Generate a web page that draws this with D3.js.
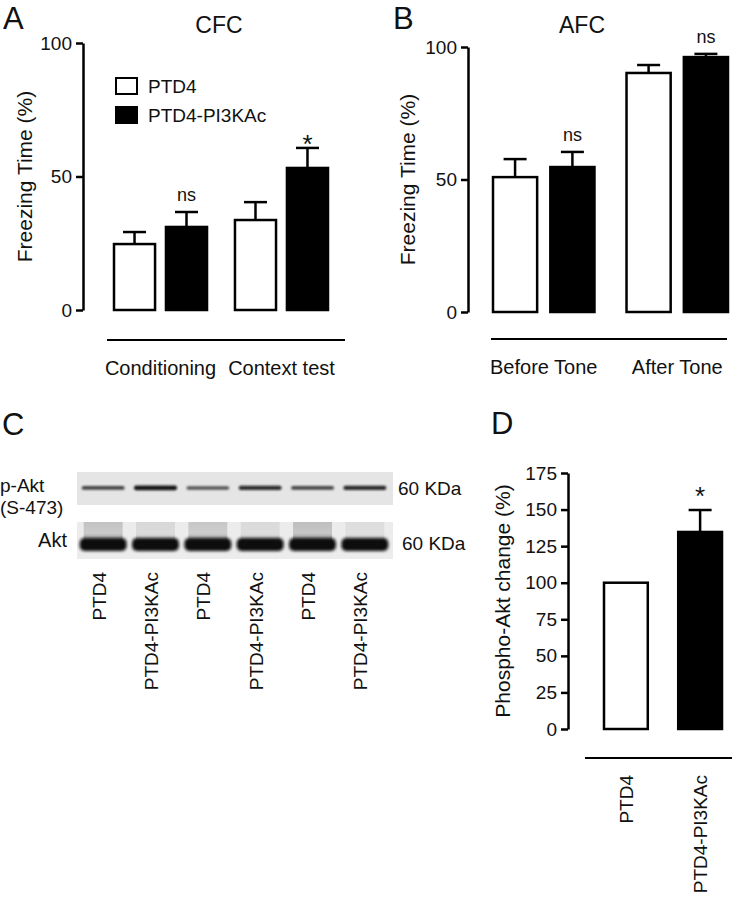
<!DOCTYPE html>
<html>
<head>
<meta charset="utf-8">
<script src="https://cdn.jsdelivr.net/npm/d3@7"></script>
<style>
  html, body { margin: 0; padding: 0; background: #fff; }
  svg text { font-family: "Liberation Sans", Arial, Helvetica, sans-serif; fill: #111; }
</style>
</head>
<body>
<svg id="chart" width="732" height="899"></svg>
<script>
// ---------------- DATA ----------------
const seriesNames = ["PTD4", "PTD4-PI3KAc"];

// Panel A - CFC
const cfcGroups = ["Conditioning", "Context test"];
const cfcPTD4 = [24.7, 33.7];
const cfcPTD4err = [4.5, 6.7];
const cfcPI3K = [31.1, 53.2];
const cfcPI3Kerr = [5.6, 7.5];
const cfcMarks = ["ns", "*"];
const cfcTicks = [0, 50, 100];

// Panel B - AFC
const afcGroups = ["Before Tone", "After Tone"];
const afcPTD4 = [50.9, 90.2];
const afcPTD4err = [6.8, 3.0];
const afcPI3K = [54.7, 96.2];
const afcPI3Kerr = [5.7, 1.2];
const afcMarks = ["ns", "ns"];
const afcTicks = [0, 50, 100];

// Panel C - western blot
const laneLabels = ["PTD4", "PTD4-PI3KAc", "PTD4", "PTD4-PI3KAc", "PTD4", "PTD4-PI3KAc"];
const pAktBand = [0.62, 0.95, 0.5, 0.78, 0.6, 0.8];
const aktBand = [1, 1, 1, 1, 1, 1];
const aktSmear = [0.5, 0.25, 0.45, 0.22, 0.55, 0.18];
const blotRows = ["p-Akt", "(S-473)", "Akt"];
const blotKDa = ["60 KDa", "60 KDa"];

// Panel D - phospho-Akt change
const dCats = ["PTD4", "PTD4-PI3KAc"];
const dValues = [100, 134.7];
const dErr = [0, 15];
const dMarks = ["", "*"];
const dTicks = [0, 25, 50, 75, 100, 125, 150, 175];

// ---------------- DRAW ----------------
const svg = d3.select("#chart");
const fills = ["#ffffff", "#000000"];
const SW = 2.5;

function panelLetter(t, x, y) {
  svg.append("text").attr("x", x).attr("y", y).attr("font-size", 31).text(t);
}

function yAxis(y, x, ticks, label, labelX) {
  const g = svg.append("g").attr("transform", `translate(${x},0)`)
    .call(d3.axisLeft(y).tickValues(ticks).tickSize(7).tickPadding(4).tickSizeOuter(0));
  g.select(".domain").attr("stroke", "#000").attr("stroke-width", SW);
  g.selectAll(".tick line").attr("stroke", "#000").attr("stroke-width", SW);
  g.selectAll(".tick text").attr("font-size", 19).attr("fill", "#111")
    .attr("font-family", "Liberation Sans, Arial, sans-serif");
  const r = y.range();
  svg.append("text")
    .attr("transform", `translate(${labelX},${(r[0] + r[1]) / 2}) rotate(-90)`)
    .attr("text-anchor", "middle").attr("dy", "0.35em")
    .attr("font-size", 21).text(label);
}

function groupedBars(opts) {
  const { groups, vals, errs, marks, y, x0, baseline, baseX, catY, title, titleX, markOff, starOff } = opts;
  const xi = d3.scaleBand().domain(seriesNames).range([0, x0.bandwidth()]).paddingInner(opts.innerPad);
  const data = [];
  groups.forEach((g, gi) => seriesNames.forEach((s, si) => {
    data.push({ g, s, si, v: vals[si][gi], e: errs[si][gi], m: si === 1 ? marks[gi] : "" });
  }));
  const bx = d => x0(d.g) + xi(d.s);
  const bw = xi.bandwidth();
  const eg = svg.append("g");
  data.forEach(d => {
    if (d.e > 0) {
      const cx = bx(d) + bw / 2;
      eg.append("line").attr("x1", cx).attr("x2", cx).attr("y1", y(d.v)).attr("y2", y(d.v + d.e))
        .attr("stroke", "#000").attr("stroke-width", SW);
      eg.append("line").attr("x1", cx - 11.5).attr("x2", cx + 11.5).attr("y1", y(d.v + d.e)).attr("y2", y(d.v + d.e))
        .attr("stroke", "#000").attr("stroke-width", SW);
    }
  });
  svg.append("g").selectAll("rect").data(data).join("rect")
    .attr("x", bx).attr("width", bw)
    .attr("y", d => y(d.v)).attr("height", d => y(0) - y(d.v))
    .attr("fill", d => fills[d.si]).attr("stroke", "#000").attr("stroke-width", SW);
  data.forEach(d => {
    if (!d.m) return;
    const top = y(d.v + d.e);
    if (d.m === "*") {
      svg.append("text").attr("x", bx(d) + bw / 2).attr("y", top + starOff)
        .attr("text-anchor", "middle").attr("font-size", 26).text("*");
    } else {
      svg.append("text").attr("x", bx(d) + bw / 2).attr("y", top + markOff)
        .attr("text-anchor", "middle").attr("font-size", 18).text(d.m);
    }
  });
  svg.append("line").attr("x1", baseX[0]).attr("x2", baseX[1]).attr("y1", baseline).attr("y2", baseline)
    .attr("stroke", "#000").attr("stroke-width", 2);
  groups.forEach(g => {
    svg.append("text").attr("x", x0(g) + x0.bandwidth() / 2).attr("y", catY)
      .attr("text-anchor", "middle").attr("font-size", 20).text(g);
  });
  svg.append("text").attr("x", titleX).attr("y", 33).attr("text-anchor", "middle")
    .attr("font-size", 23).text(title);
}

// ---- Panel A ----
panelLetter("A", 3, 29);
const yA = d3.scaleLinear().domain([0, 100]).range([310, 43]);
const xA = d3.scaleBand().domain(cfcGroups).range([114, 328]).paddingInner(0.231).paddingOuter(0);
yAxis(yA, 83, cfcTicks, "Freezing Time (%)", 25);
groupedBars({ groups: cfcGroups, vals: [cfcPTD4, cfcPI3K], errs: [cfcPTD4err, cfcPI3Kerr], marks: cfcMarks,
  y: yA, x0: xA, innerPad: 0.21, baseline: 340, baseX: [107, 345], catY: 375,
  title: "CFC", titleX: 219, markOff: -11, starOff: 5 });
seriesNames.forEach((s, i) => {
  const ly = 86 + i * 29;
  svg.append("rect").attr("x", 116).attr("y", ly - 8).attr("width", 21).attr("height", 16)
    .attr("fill", fills[i]).attr("stroke", "#000").attr("stroke-width", 2);
  svg.append("text").attr("x", 148).attr("y", ly).attr("dy", "0.35em").attr("font-size", 19).text(s);
});

// ---- Panel B ----
panelLetter("B", 393, 29);
const yB = d3.scaleLinear().domain([0, 100]).range([312, 47]);
const xB = d3.scaleBand().domain(afcGroups).range([493, 728]).paddingInner(0.24).paddingOuter(0);
yAxis(yB, 468, afcTicks, "Freezing Time (%)", 408);
groupedBars({ groups: afcGroups, vals: [afcPTD4, afcPI3K], errs: [afcPTD4err, afcPI3Kerr], marks: afcMarks,
  y: yB, x0: xB, innerPad: 0.23, baseline: 339, baseX: [491, 727], catY: 374,
  title: "AFC", titleX: 582, markOff: -11, starOff: 5 });

// ---- Panel C (blot) ----
panelLetter("C", 2, 435);
const defs = svg.append("defs");
defs.append("filter").attr("id", "blur1").attr("x", "-20%").attr("y", "-100%").attr("width", "140%").attr("height", "300%")
  .append("feGaussianBlur").attr("stdDeviation", 1.0);
defs.append("filter").attr("id", "blur2").attr("x", "-20%").attr("y", "-50%").attr("width", "140%").attr("height", "200%")
  .append("feGaussianBlur").attr("stdDeviation", 1.6);
const sm = defs.append("linearGradient").attr("id", "smear").attr("x1", 0).attr("x2", 0).attr("y1", 0).attr("y2", 1);
sm.append("stop").attr("offset", "0%").attr("stop-color", "#555").attr("stop-opacity", 0.55);
sm.append("stop").attr("offset", "60%").attr("stop-color", "#555").attr("stop-opacity", 0.45);
sm.append("stop").attr("offset", "100%").attr("stop-color", "#333").attr("stop-opacity", 0.8);

const lane = d3.scaleBand().domain(d3.range(laneLabels.length)).range([77, 391]).paddingInner(0.18).paddingOuter(0.09);
svg.append("rect").attr("x", 77).attr("y", 472).attr("width", 316).attr("height", 33).attr("fill", "#e5e5e5");
svg.append("g").selectAll("rect").data(pAktBand).join("rect")
  .attr("x", (d, i) => lane(i)).attr("width", lane.bandwidth())
  .attr("y", (d) => 487 - d * 1.6).attr("height", d => 2 + d * 3).attr("rx", 2)
  .attr("fill", "#111").attr("opacity", d => 0.35 + 0.65 * d).attr("filter", "url(#blur1)");
svg.append("rect").attr("x", 77).attr("y", 522).attr("width", 316).attr("height", 37).attr("fill", "#ececec");
svg.append("g").selectAll("rect").data(aktSmear).join("rect")
  .attr("x", (d, i) => lane(i) + 2).attr("width", lane.bandwidth() - 4)
  .attr("y", 522).attr("height", 18)
  .attr("fill", "url(#smear)").attr("opacity", d => d);
svg.append("g").selectAll("rect").data(aktBand).join("rect")
  .attr("x", (d, i) => lane(i) - 2).attr("width", lane.bandwidth() + 4)
  .attr("y", 538).attr("height", 13).attr("rx", 5)
  .attr("fill", "#0d0d0d").attr("opacity", d => d).attr("filter", "url(#blur2)");
svg.append("text").attr("x", 0).attr("y", 492).attr("font-size", 19).text(blotRows[0]);
svg.append("text").attr("x", 0).attr("y", 514).attr("font-size", 19).text(blotRows[1]);
svg.append("text").attr("x", 67).attr("y", 547).attr("text-anchor", "end").attr("font-size", 20).text(blotRows[2]);
svg.append("text").attr("x", 398).attr("y", 495).attr("font-size", 19).text(blotKDa[0]);
svg.append("text").attr("x", 402).attr("y", 550).attr("font-size", 19).text(blotKDa[1]);
laneLabels.forEach((t, i) => {
  svg.append("text")
    .attr("transform", `translate(${lane(i) + lane.bandwidth() / 2 - 4},572) rotate(-90)`)
    .attr("text-anchor", "end").attr("dy", "0.35em").attr("font-size", 19).text(t);
});

// ---- Panel D ----
panelLetter("D", 491, 434);
const yD = d3.scaleLinear().domain([0, 175]).range([729, 473]);
const xD = d3.scaleBand().domain(dCats).range([604, 722]).paddingInner(0.41).paddingOuter(0);
yAxis(yD, 568, dTicks, "Phospho-Akt change (%)", 503);
const dData = dCats.map((c, i) => ({ c, i, v: dValues[i], e: dErr[i], m: dMarks[i] }));
dData.forEach(d => {
  if (d.e > 0) {
    const cx = xD(d.c) + xD.bandwidth() / 2;
    svg.append("line").attr("x1", cx).attr("x2", cx).attr("y1", yD(d.v)).attr("y2", yD(d.v + d.e))
      .attr("stroke", "#000").attr("stroke-width", SW);
    svg.append("line").attr("x1", cx - 11.5).attr("x2", cx + 11.5).attr("y1", yD(d.v + d.e)).attr("y2", yD(d.v + d.e))
      .attr("stroke", "#000").attr("stroke-width", SW);
  }
});
svg.append("g").selectAll("rect").data(dData).join("rect")
  .attr("x", d => xD(d.c)).attr("width", xD.bandwidth())
  .attr("y", d => yD(d.v)).attr("height", d => yD(0) - yD(d.v))
  .attr("fill", d => fills[d.i]).attr("stroke", "#000").attr("stroke-width", SW);
dData.forEach(d => {
  if (d.m) svg.append("text").attr("x", xD(d.c) + xD.bandwidth() / 2).attr("y", yD(d.v + d.e) - 5)
    .attr("text-anchor", "middle").attr("font-size", 26).text(d.m);
});
svg.append("line").attr("x1", 585).attr("x2", 732).attr("y1", 758).attr("y2", 758)
  .attr("stroke", "#000").attr("stroke-width", 2);
dCats.forEach((c, i) => {
  svg.append("text")
    .attr("transform", `translate(${xD(c) + xD.bandwidth() / 2},775) rotate(-90)`)
    .attr("text-anchor", "end").attr("dy", "0.35em").attr("font-size", 19).text(c);
});
</script>
</body>
</html>
